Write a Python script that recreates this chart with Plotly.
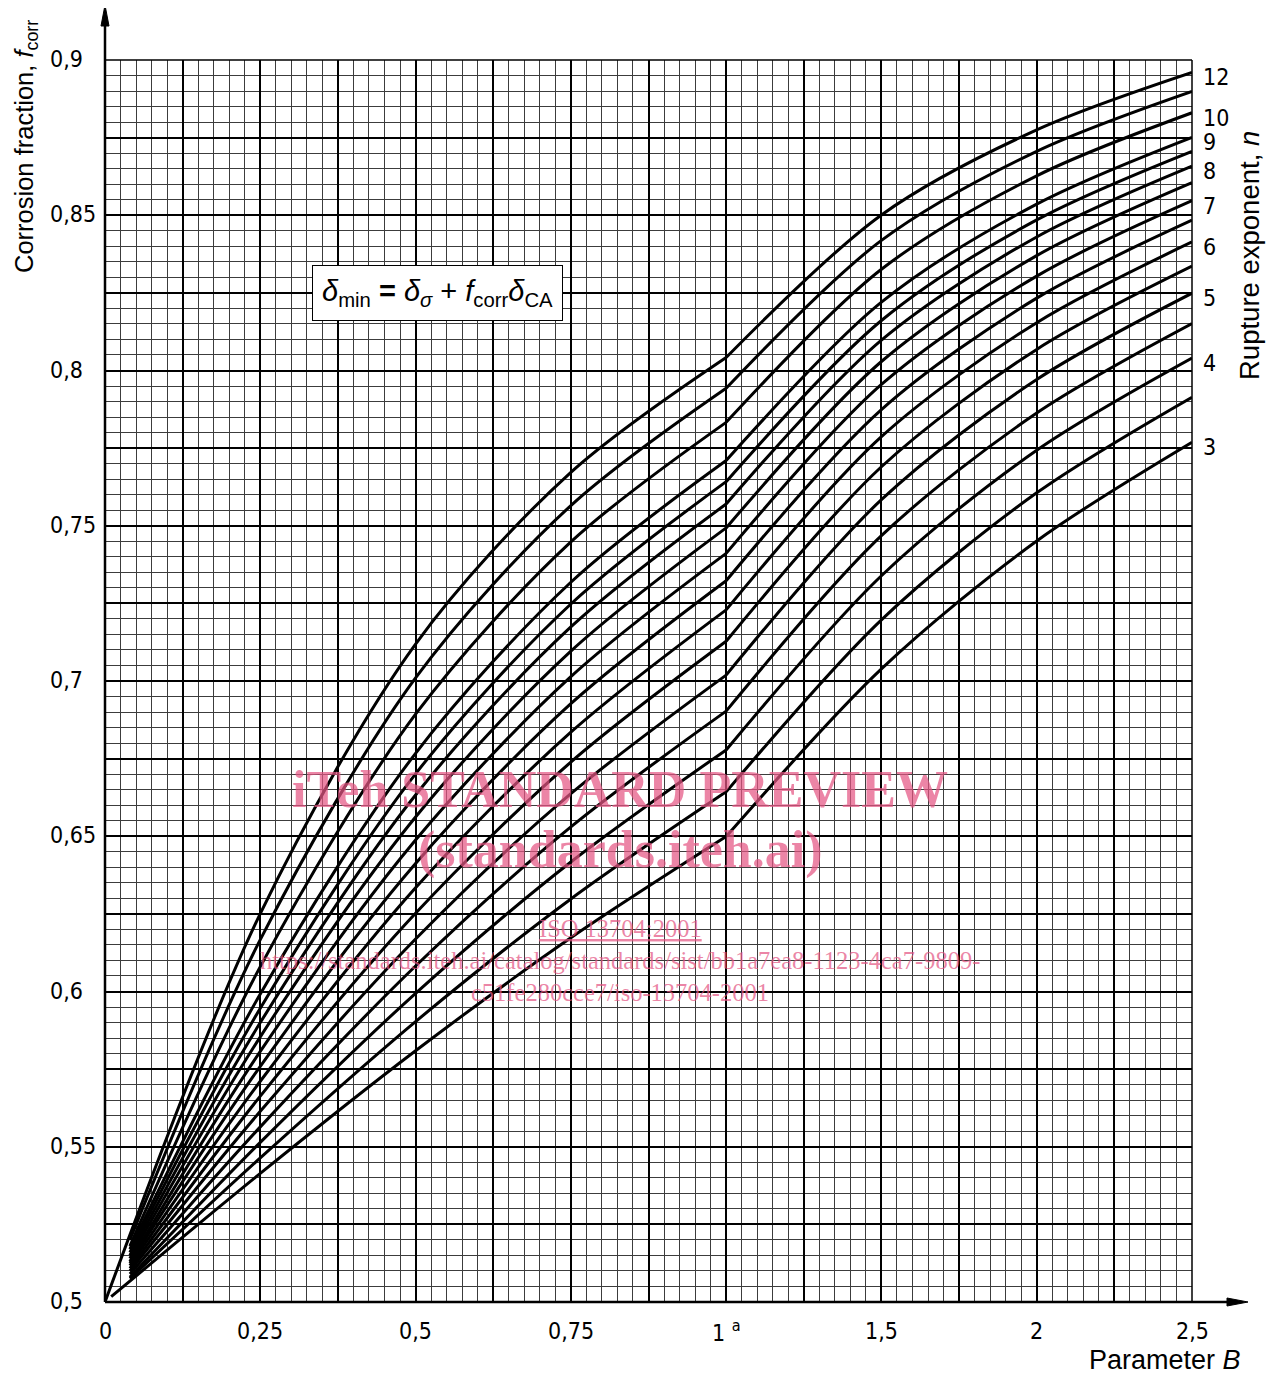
import numpy as np
import plotly.graph_objects as go

# ---------------- data ----------------
# Parameter B columns at which the curves were read
B_COLS = [0.25, 0.5, 0.75, 1.0, 1.5, 2.0, 2.5]

# rupture exponents n (top curve first)
N_VALUES = [12, 11, 10, 9, 8.5, 8, 7.5, 7, 6.5, 6, 5.5, 5, 4.5, 4, 3.5, 3]

# where each curve begins near the origin
START_B = [0.0, 0.04, 0.04, 0.04, 0.04, 0.04, 0.04, 0.04, 0.04, 0.04, 0.04, 0.04, 0.04, 0.04, 0.04, 0.01]
START_F = [0.500, 0.520, 0.518, 0.517, 0.516, 0.515, 0.514, 0.513, 0.5125, 0.5117,
           0.5108, 0.510, 0.509, 0.508, 0.5075, 0.5017]

# corrosion fraction f_corr at B_COLS for each n
F_N12 = [0.6251, 0.7119, 0.7672, 0.8042, 0.8501, 0.8775, 0.8960]
F_N11 = [0.6167, 0.7010, 0.7565, 0.7943, 0.8419, 0.8706, 0.8899]
F_N10 = [0.6080, 0.6893, 0.7448, 0.7833, 0.8326, 0.8627, 0.8830]
F_N9 = [0.5992, 0.6767, 0.7318, 0.7710, 0.8220, 0.8536, 0.8751]
F_N8_5 = [0.5946, 0.6701, 0.7248, 0.7642, 0.8161, 0.8485, 0.8706]
F_N8 = [0.5900, 0.6633, 0.7174, 0.7570, 0.8098, 0.8430, 0.8658]
F_N7_5 = [0.5854, 0.6562, 0.7096, 0.7493, 0.8029, 0.8370, 0.8605]
F_N7 = [0.5807, 0.6488, 0.7014, 0.7411, 0.7955, 0.8304, 0.8547]
F_N6_5 = [0.5759, 0.6412, 0.6927, 0.7323, 0.7874, 0.8233, 0.8484]
F_N6 = [0.5711, 0.6334, 0.6835, 0.7229, 0.7787, 0.8154, 0.8414]
F_N5_5 = [0.5663, 0.6252, 0.6739, 0.7128, 0.7690, 0.8068, 0.8336]
F_N5 = [0.5614, 0.6169, 0.6637, 0.7019, 0.7584, 0.7971, 0.8249]
F_N4_5 = [0.5564, 0.6082, 0.6530, 0.6903, 0.7468, 0.7863, 0.8151]
F_N4 = [0.5514, 0.5994, 0.6417, 0.6778, 0.7339, 0.7743, 0.8040]
F_N3_5 = [0.5464, 0.5903, 0.6298, 0.6643, 0.7197, 0.7606, 0.7914]
F_N3 = [0.5414, 0.5809, 0.6173, 0.6499, 0.7039, 0.7451, 0.7769]

F_SERIES = [F_N12, F_N11, F_N10, F_N9, F_N8_5, F_N8, F_N7_5, F_N7, F_N6_5,
            F_N6, F_N5_5, F_N5, F_N4_5, F_N4, F_N3_5, F_N3]

# curves that carry a label at the right-hand end
LABELLED_N = [12, 10, 9, 8, 7, 6, 5, 4, 3]

# tick labels
X_TICK_B = [0, 0.25, 0.5, 0.75, 1, 1.5, 2, 2.5]
X_TICK_TEXT = ["0", "0,25", "0,5", "0,75", "1 <sup>a</sup>", "1,5", "2", "2,5"]
Y_TICK_VALS = [0.5, 0.55, 0.6, 0.65, 0.7, 0.75, 0.8, 0.85, 0.9]
Y_TICK_TEXT = ["0,5", "0,55", "0,6", "0,65", "0,7", "0,75", "0,8", "0,85", "0,9"]


# the B axis changes scale at B = 1 (footnote a): 1..2.5 is drawn at half scale
def to_axis(b):
    return b if b <= 1 else 1 + (b - 1) / 2


TICK_FONT = "Liberation Sans Narrow, DejaVu Sans Condensed, Arial Narrow, sans-serif"
TITLE_FONT = "Liberation Sans, Arial, Helvetica, sans-serif"
SERIF = "Liberation Serif, Times New Roman, serif"

fig = go.Figure()

for n, b0, f0, fvals in zip(N_VALUES, START_B, START_F, F_SERIES):
    bs = [b0] + B_COLS
    fs = [f0] + fvals
    seg1 = [(b, f) for b, f in zip(bs, fs) if b <= 1]
    seg2 = [(b, f) for b, f in zip(bs, fs) if b >= 1]
    xs = [to_axis(b) for b, _ in seg1] + [None] + [to_axis(b) for b, _ in seg2]
    ys = [f for _, f in seg1] + [None] + [f for _, f in seg2]
    fig.add_trace(go.Scatter(
        x=xs, y=ys, mode="lines", connectgaps=False,
        line=dict(color="black", width=3, shape="spline", smoothing=0.9),
        showlegend=False, hoverinfo="skip"))

# ---------------- axes / grid ----------------
x_max = to_axis(2.5)
x_major = [round(v, 4) for v in np.arange(0, x_max + 1e-9, 0.125)]
x_minor = [round(v, 4) for v in np.arange(0, x_max + 1e-9, 0.025)]
y_major = [round(v, 4) for v in np.arange(0.5, 0.9 + 1e-9, 0.025)]
y_minor = [round(v, 4) for v in np.arange(0.5, 0.9 + 1e-9, 0.005)]

# the page has an 8 px body margin: the figure is sized so that the plot area
# sits at x 105..1192, y 60..1302 of the page and the figure reaches its edges
fig.update_layout(
    width=1266, height=1370,
    margin=dict(l=97, r=82, t=52, b=76),
    paper_bgcolor="white", plot_bgcolor="white",
    showlegend=False,
    xaxis=dict(
        range=[0, x_max], tickmode="array", tickvals=x_major,
        showticklabels=False,
        showgrid=True, gridcolor="black", gridwidth=2, zeroline=False,
        showline=False, ticks="",
        minor=dict(tickmode="array", tickvals=x_minor, showgrid=True,
                   gridcolor="#3c3c3c", gridwidth=1, ticks=""),
    ),
    yaxis=dict(
        range=[0.5, 0.9], tickmode="array", tickvals=y_major,
        showticklabels=False,
        showgrid=True, gridcolor="black", gridwidth=2, zeroline=False,
        showline=False, ticks="",
        minor=dict(tickmode="array", tickvals=y_minor, showgrid=True,
                   gridcolor="#3c3c3c", gridwidth=1, ticks=""),
    ),
)

# plot frame and arrowed axes (paper coordinates)
PX_X = 1 / 1087.0
PX_Y = 1 / 1242.0
shapes = [
    dict(type="line", xref="paper", yref="paper", x0=1, x1=1, y0=0, y1=1,
         line=dict(color="black", width=1.5)),
    dict(type="line", xref="paper", yref="paper", x0=0, x1=1, y0=1, y1=1,
         line=dict(color="black", width=1.5)),
    dict(type="line", xref="paper", yref="paper", x0=0, x1=0, y0=0, y1=1278 * PX_Y,
         line=dict(color="black", width=2.5)),
    dict(type="line", xref="paper", yref="paper", x0=0, x1=1125 * PX_X, y0=0, y1=0,
         line=dict(color="black", width=2.5)),
    dict(type="path", xref="paper", yref="paper",
         path=f"M {-4*PX_X},{1276*PX_Y} L 0,{1297*PX_Y} L {4*PX_X},{1276*PX_Y} Z",
         fillcolor="black", line=dict(color="black", width=1)),
    dict(type="path", xref="paper", yref="paper",
         path=f"M {1122*PX_X},{4*PX_Y} L {1143*PX_X},0 L {1122*PX_X},{-4*PX_Y} Z",
         fillcolor="black", line=dict(color="black", width=1)),
]
fig.update_layout(shapes=shapes)

ann = []
# x tick labels (centred under the ticks)
for b, t in zip(X_TICK_B, X_TICK_TEXT):
    ann.append(dict(x=to_axis(b), y=-29 * PX_Y, xref="x", yref="paper", text=t,
                    showarrow=False, xanchor="center", yanchor="middle",
                    font=dict(family=TICK_FONT, size=23, color="black")))
# y tick labels (left aligned, as in the reference)
for v, t in zip(Y_TICK_VALS, Y_TICK_TEXT):
    ann.append(dict(x=-57 * PX_X, y=v, xref="paper", yref="y", text=t,
                    showarrow=False, xanchor="left", yanchor="middle", yshift=1,
                    font=dict(family=TICK_FONT, size=23, color="black")))

# curve labels at the right end
for n, fvals in zip(N_VALUES, F_SERIES):
    if n in LABELLED_N:
        ann.append(dict(x=to_axis(B_COLS[-1]), y=fvals[-1], xref="x", yref="y",
                        text=str(n), showarrow=False, xanchor="left", yanchor="middle",
                        xshift=9, yshift=-5,
                        font=dict(family=TICK_FONT, size=23, color="black")))

# axis titles
ann.append(dict(x=(26 - 105) * PX_X, y=(1302 - 147) * PX_Y, xref="paper", yref="paper",
                text="Corrosion fraction, <i>f</i><sub>corr</sub>", textangle=-90,
                showarrow=False, xanchor="center", yanchor="middle",
                font=dict(family=TITLE_FONT, size=25.5, color="black")))
ann.append(dict(x=(1249 - 105) * PX_X, y=(1302 - 256) * PX_Y, xref="paper", yref="paper",
                text="Rupture exponent, <i>n</i>", textangle=-90,
                showarrow=False, xanchor="center", yanchor="middle",
                font=dict(family=TITLE_FONT, size=27.5, color="black")))
ann.append(dict(x=(1243 - 105) * PX_X, y=(1302 - 1360) * PX_Y, xref="paper", yref="paper",
                text="Parameter <i>B</i>", showarrow=False, xanchor="right", yanchor="middle",
                font=dict(family=TITLE_FONT, size=27, color="black")))

# formula box
ann.append(dict(x=(437 - 105) * PX_X, y=(1302 - 293) * PX_Y, xref="paper", yref="paper",
                text="<i>δ</i><sub>min</sub> <b>=</b> <i>δ</i><sub><i>σ</i></sub> + "
                     "<i>f</i><sub>corr</sub><i>δ</i><sub>CA</sub>",
                showarrow=False, xanchor="center", yanchor="middle",
                bgcolor="white", bordercolor="black", borderwidth=1, borderpad=9,
                font=dict(family=TITLE_FONT, size=29, color="black")))

# watermark
WM = "rgba(228,86,132,0.72)"
wm_lines = [
    ("<b>iTeh STANDARD PREVIEW</b>", 790, 52),
    ("<b>(standards.iteh.ai)</b>", 850, 52),
    ("<u>ISO 13704:2001</u>", 928, 24.5),
    ("https://standards.iteh.ai/catalog/standards/sist/bb1a7ea8-1123-4ca7-9809-", 960, 24.5),
    ("c51fe280cce7/iso-13704-2001", 992, 24.5),
]
for txt, py, sz in wm_lines:
    ann.append(dict(x=(620 - 105) * PX_X, y=(1302 - py) * PX_Y, xref="paper", yref="paper",
                    text=txt, showarrow=False, xanchor="center", yanchor="middle",
                    font=dict(family=SERIF, size=sz, color=WM)))

fig.update_layout(annotations=ann)

fig.write_html("out.html")
